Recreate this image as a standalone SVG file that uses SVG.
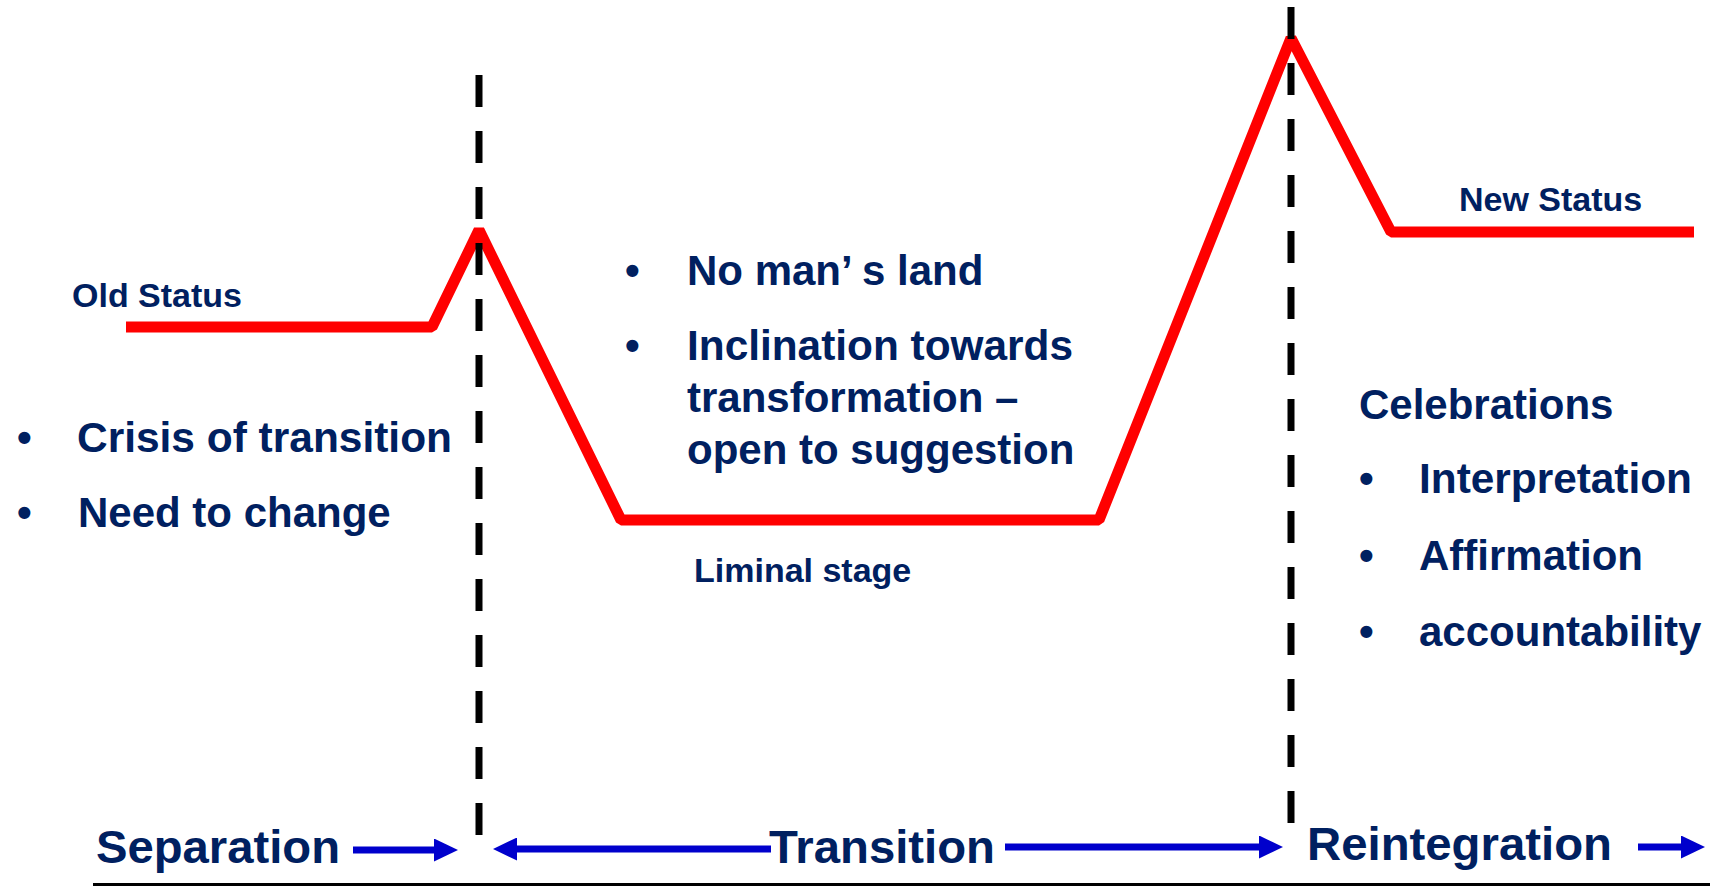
<svg xmlns="http://www.w3.org/2000/svg" width="1711" height="886" viewBox="0 0 1711 886">
<style>
.t{font-family:"Liberation Sans",Arial,sans-serif;font-weight:bold;fill:#002060}
.s{font-size:34px}
.m{font-size:42px}
.b{font-size:47px}
.curve{fill:none;stroke:#FF0000;stroke-width:11;stroke-linejoin:bevel}
.dash{stroke:#000;stroke-width:7;stroke-dasharray:32 24}
.arr{stroke:#0000CC;stroke-width:7;marker-end:url(#ah)}
</style>
<defs>
<marker id="ah" markerUnits="userSpaceOnUse" viewBox="0 -11.5 24 23" refX="0" refY="0" markerWidth="24" markerHeight="23" orient="auto">
<path d="M0,-11.5 L24,0 L0,11.5 z" fill="#0000CC"/>
</marker>
</defs>
<rect width="1711" height="886" fill="#fff"/>
<g id="status-curve">
<polyline class="curve" points="126,327 432,327 479,230 621,520 1099,520 1291,38 1391,232 1694,232"/>
</g>
<g id="dividers">
<line class="dash" x1="479" y1="75" x2="479" y2="835"/>
<line class="dash" x1="1291" y1="7" x2="1291" y2="823"/>
</g>
<g id="old-status"><text class="t s" x="72" y="307">Old Status</text></g>
<g id="new-status"><text class="t s" x="1459" y="211">New Status</text></g>
<g id="liminal-stage"><text class="t s" x="694" y="582">Liminal stage</text></g>
<g id="separation-notes">
<text class="t m" x="17" y="452">•</text>
<text class="t m" x="77" y="452" textLength="375" lengthAdjust="spacingAndGlyphs">Crisis of transition</text>
<text class="t m" x="17" y="527">•</text>
<text class="t m" x="78" y="527">Need to change</text>
</g>
<g id="transition-notes">
<text class="t m" x="625" y="285">•</text>
<text class="t m" x="687" y="285">No man’ s land</text>
<text class="t m" x="625" y="360">•</text>
<text class="t m" x="687" y="360" textLength="386" lengthAdjust="spacingAndGlyphs">Inclination towards</text>
<text class="t m" x="687" y="412">transformation –</text>
<text class="t m" x="687" y="464">open to suggestion</text>
</g>
<g id="reintegration-notes">
<text class="t m" x="1359" y="419">Celebrations</text>
<text class="t m" x="1359" y="493">•</text>
<text class="t m" x="1419" y="493" textLength="273" lengthAdjust="spacingAndGlyphs">Interpretation</text>
<text class="t m" x="1359" y="570">•</text>
<text class="t m" x="1419" y="570">Affirmation</text>
<text class="t m" x="1359" y="646">•</text>
<text class="t m" x="1419" y="646">accountability</text>
</g>
<g id="phase-separation"><text class="t b" x="96" y="863" textLength="244" lengthAdjust="spacingAndGlyphs">Separation</text></g>
<g id="phase-transition"><text class="t b" x="769" y="863" textLength="226" lengthAdjust="spacingAndGlyphs">Transition</text></g>
<g id="phase-reintegration"><text class="t b" x="1307" y="860" textLength="305" lengthAdjust="spacingAndGlyphs">Reintegration</text></g>
<g id="connectors">
<line class="arr" x1="353" y1="850" x2="434" y2="850"/>
<line class="arr" x1="771" y1="849" x2="517" y2="849"/>
<line class="arr" x1="1005" y1="847" x2="1259" y2="847"/>
<line class="arr" x1="1638" y1="847" x2="1681" y2="847"/>
</g>
<g id="baseline">
<line x1="93" y1="884.5" x2="1710" y2="884.5" stroke="#000" stroke-width="3"/>
</g>
</svg>
